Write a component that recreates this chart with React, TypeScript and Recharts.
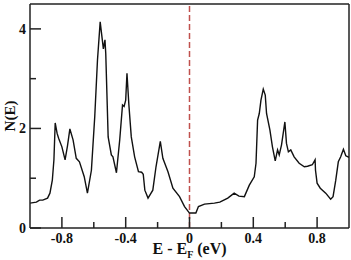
import React from "react";
import { LineChart, Line, XAxis, YAxis, ReferenceLine } from "recharts";

const energy = [
  -1.0, -0.96, -0.94, -0.92, -0.89, -0.875, -0.86, -0.85, -0.842, -0.83, -0.82, -0.8, -0.78, -0.765, -0.75,
  -0.73, -0.71, -0.69, -0.66, -0.64, -0.615, -0.594, -0.577, -0.56, -0.54, -0.53, -0.525, -0.51, -0.49, -0.48,
  -0.458, -0.4375, -0.42, -0.41, -0.4, -0.392, -0.38, -0.365, -0.344, -0.32, -0.3, -0.29, -0.28, -0.26, -0.23,
  -0.21, -0.183, -0.167, -0.135, -0.104, -0.0625, -0.031, 0.0, 0.04, 0.056, 0.094, 0.156, 0.19, 0.24, 0.28,
  0.31, 0.344, 0.375, 0.406, 0.417, 0.427, 0.4375, 0.448, 0.4625, 0.475, 0.483, 0.504, 0.52, 0.5375, 0.552,
  0.5625, 0.577, 0.598, 0.608, 0.62, 0.635, 0.656, 0.6875, 0.72, 0.74, 0.77, 0.7875, 0.79, 0.8, 0.82, 0.854,
  0.885, 0.9, 0.917, 0.933, 0.948, 0.965, 0.98, 1.0,
];

const dos = [
  0.5, 0.52, 0.56, 0.56, 0.6, 0.7, 0.96, 1.37, 2.11, 1.9, 1.8, 1.63, 1.37, 1.65, 1.99,
  1.77, 1.4, 1.33, 1.03, 0.7, 1.16, 2.24, 3.37, 4.14, 3.6, 3.78, 3.5, 1.83, 1.47, 1.43,
  1.11, 1.77, 2.47, 2.44, 2.57, 3.11, 2.47, 1.83, 1.43, 1.13, 1.12, 1.08, 0.76, 0.6, 0.76,
  1.23, 1.74, 1.4, 1.13, 0.8, 0.63, 0.43, 0.3, 0.3, 0.43, 0.48, 0.5, 0.52, 0.6, 0.7,
  0.64, 0.63, 0.86, 1.03, 1.3, 2.17, 2.3, 2.57, 2.79, 2.67, 2.3, 1.97, 1.63, 1.35, 1.57,
  1.47, 1.67, 2.13, 1.7, 1.53, 1.57, 1.43, 1.3, 1.23, 1.24, 1.27, 1.37, 1.16, 0.9, 0.8, 0.7,
  0.58, 0.63, 0.96, 1.33, 1.43, 1.58, 1.45, 1.42,
];

const xTicks = [-0.8, -0.6, -0.4, -0.2, 0, 0.2, 0.4, 0.6, 0.8];
const xLabeled = [-0.8, -0.4, 0, 0.4, 0.8];
const yTicks = [0, 1, 2, 3, 4];
const yLabeled = [0, 2, 4];

const data = energy.map((e, i) => ({ e, n: dos[i] }));

const FONT = '"Times New Roman", "Liberation Serif", Tinos, "Nimbus Roman", "DejaVu Serif", serif';
const AXIS = "#222";
const textStyle = { fontFamily: FONT, fontWeight: 700 } as React.CSSProperties;

const XTick = (props: any) => {
  const { x, y, payload } = props;
  const v = payload.value;
  const major = xLabeled.includes(v);
  const len = major ? 11 : 6;
  return (
    <g>
      <line x1={x} y1={y} x2={x} y2={y - len} stroke={AXIS} strokeWidth={1.5} />
      {major && (
        <text x={x} y={y + 15} textAnchor="middle" fontFamily={FONT} style={{ ...textStyle, fontSize: 14 }} fill="#111">
          {String(v)}
        </text>
      )}
    </g>
  );
};

const YTick = (props: any) => {
  const { x, y, payload } = props;
  const v = payload.value;
  const major = yLabeled.includes(v);
  const len = major ? 11 : 6;
  return (
    <g>
      <line x1={x} y1={y} x2={x + len} y2={y} stroke={AXIS} strokeWidth={1.5} />
      {major && (
        <text x={x - 4} y={y + 5} textAnchor="end" fontFamily={FONT} style={{ ...textStyle, fontSize: 14 }} fill="#111">
          {String(v)}
        </text>
      )}
    </g>
  );
};

const XTitle = (props: any) => {
  const vb = props.viewBox;
  const cx = vb.x + vb.width / 2;
  return (
    <text x={cx} y={vb.y + 26} textAnchor="middle" fontFamily={FONT} style={{ ...textStyle, fontSize: 16 }} fill="#111">
      <tspan>E - E</tspan>
      <tspan style={{ fontSize: 10 }} dy={4}>F</tspan>
      <tspan dy={-4}> (eV)</tspan>
    </text>
  );
};

const YTitle = (props: any) => {
  const vb = props.viewBox;
  const cy = vb.y + vb.height / 2;
  const cx = 15;
  return (
    <text
      x={cx}
      y={cy}
      textAnchor="middle"
      fontFamily={FONT}
      style={{ ...textStyle, fontSize: 15 }}
      fill="#111"
      transform={`rotate(-90 ${cx} ${cy})`}
    >
      N(E)
    </text>
  );
};

export default function App() {
  return (
    <div style={{ position: "absolute", left: 0, top: 0, background: "#fff", fontFamily: FONT }}>
      <LineChart width={351} height={260} data={data} margin={{ top: 4, right: 2, left: 0, bottom: 0 }}>
        <XAxis
          dataKey="e"
          type="number"
          domain={[-1, 1]}
          ticks={xTicks}
          allowDataOverflow
          height={32}
          tickSize={0}
          tickMargin={0}
          tickLine={false}
          tick={<XTick />}
          axisLine={{ stroke: AXIS, strokeWidth: 1.5 }}
          label={{ content: <XTitle /> }}
          interval={0}
        />
        <YAxis
          type="number"
          domain={[0, 4.5]}
          ticks={yTicks}
          allowDataOverflow
          width={30}
          tickSize={0}
          tickMargin={0}
          tickLine={false}
          tick={<YTick />}
          axisLine={{ stroke: AXIS, strokeWidth: 1.5 }}
          label={{ content: <YTitle /> }}
          interval={0}
        />
        <ReferenceLine x={0} stroke="#c0504d" strokeWidth={1.5} strokeDasharray="6 3" />
        <ReferenceLine y={4.5} stroke={AXIS} strokeWidth={1.5} />
        <ReferenceLine x={1} stroke={AXIS} strokeWidth={1.5} />
        <Line
          type="linear"
          dataKey="n"
          stroke="#111"
          strokeWidth={1.4}
          dot={false}
          isAnimationActive={false}
        />
      </LineChart>
    </div>
  );
}
